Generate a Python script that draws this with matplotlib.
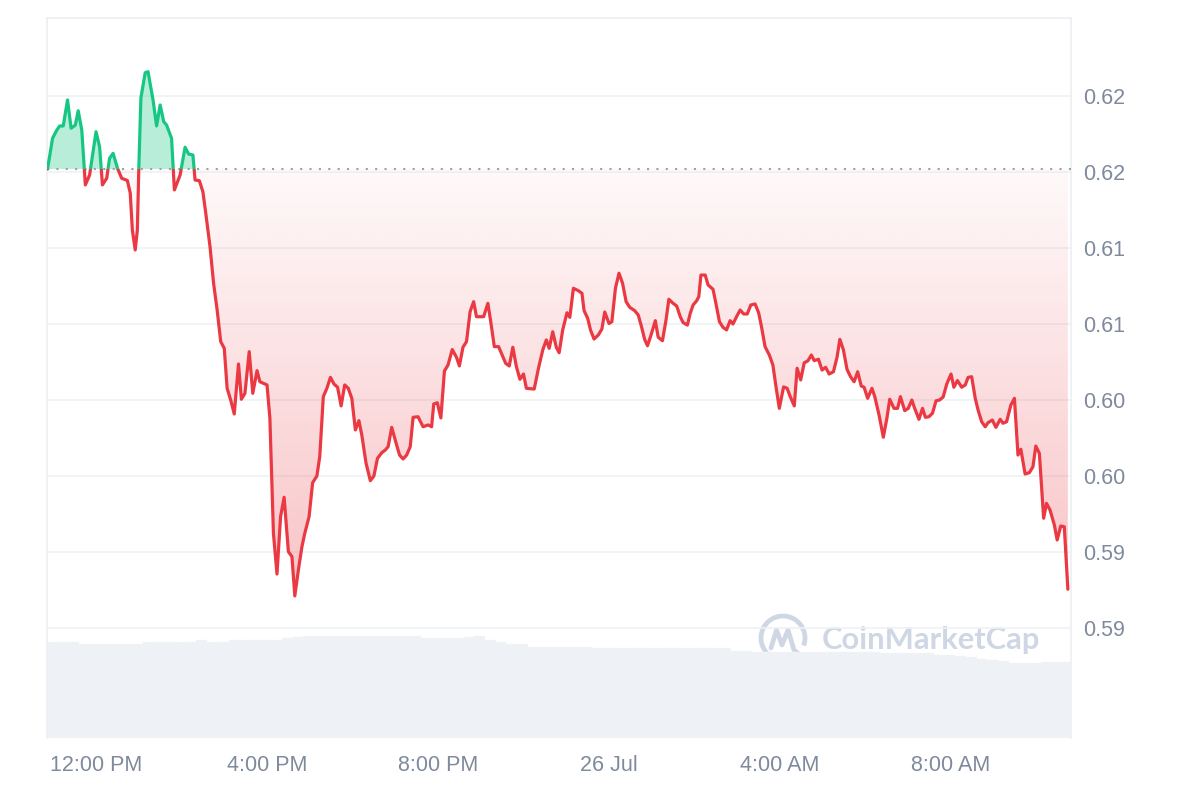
import numpy as np
import pandas as pd
import matplotlib
matplotlib.use("Agg")
import matplotlib.pyplot as plt
import matplotlib.dates as mdates
from matplotlib.patches import Rectangle, Arc
from matplotlib.path import Path

plt.rcParams['font.family'] = ['Liberation Sans', 'DejaVu Sans']

# ---------------- data ----------------
# minutes after 25 Jul 12:00 PM
minutes = [-68,-61,-55,-51,-46,-40,-35,-29,-25,-20,-15,-9,0,5,9,15,19,24,30,36,44,48,51,55,58,60,63,69,73,80,
           85,90,95,99,106,110,118,125,130,136,139,145,150,154,160,165,170,175,180,184,189,194,200,204,209,215,220,226,230,240,
           244,249,254,259,264,270,275,279,284,289,293,299,304,310,314,319,324,329,334,339,344,349,354,359,364,369,373,379,385,390,
           395,401,406,410,415,421,426,431,436,441,445,452,459,466,471,474,479,484,489,494,500,506,510,515,520,525,530,534,544,550,
           554,559,565,569,575,580,585,590,595,600,604,615,621,627,632,636,641,646,650,655,661,665,670,677,682,685,690,694,699,705,
           710,714,720,724,729,734,739,744,749,756,761,765,770,774,779,785,789,795,800,804,809,815,820,824,830,834,838,843,846,849,
           855,859,866,870,875,880,885,890,894,899,904,909,914,919,925,930,934,939,945,950,954,959,965,970,974,980,984,989,994,999,
           1004,1008,1014,1019,1024,1029,1035,1040,1044,1049,1054,1059,1064,1069,1074,1078,1083,1089,1093,1099,1105,1110,1114,1120,1125,1129,1135,1140,1145,1149,
           1155,1160,1164,1169,1174,1179,1184,1189,1194,1200,1204,1209,1215,1220,1224,1229,1234,1238,1243,1248,1252,1258,1263,1269,1273,1278,1284,1289,1294,1298,
           1304,1310,1315,1319,1324,1330,1334,1339,1345,1349,1354,1359,1364]

prices = [0.62020,0.62222,0.62276,0.62303,0.62303,0.62474,0.62288,0.62309,0.62403,0.62276,
          0.61915,0.61980,0.62265,0.62166,0.61915,0.61959,0.62090,0.62123,0.62026,0.61959,
          0.61944,0.61862,0.61618,0.61487,0.61618,0.62013,0.62487,0.62653,0.62660,0.62474,
          0.62303,0.62441,0.62331,0.62309,0.62222,0.61882,0.61980,0.62163,0.62118,0.62112,
          0.61947,0.61943,0.61870,0.61730,0.61509,0.61268,0.61092,0.60884,0.60840,0.60577,
          0.60500,0.60408,0.60737,0.60505,0.60544,0.60818,0.60544,0.60693,0.60620,0.60599,
          0.60382,0.59623,0.59355,0.59732,0.59860,0.59502,0.59469,0.59211,0.59382,0.59535,
          0.59623,0.59732,0.59956,0.60000,0.60127,0.60522,0.60577,0.60649,0.60605,0.60584,
          0.60461,0.60599,0.60577,0.60511,0.60303,0.60364,0.60270,0.60084,0.59969,0.60000,
          0.60116,0.60153,0.60171,0.60193,0.60320,0.60219,0.60138,0.60112,0.60138,0.60193,
          0.60386,0.60390,0.60324,0.60336,0.60324,0.60474,0.60482,0.60382,0.60691,0.60730,
          0.60832,0.60780,0.60724,0.60847,0.60884,0.61081,0.61147,0.61048,0.61048,0.61136,
          0.61015,0.60851,0.60851,0.60807,0.60741,0.60724,0.60847,0.60719,0.60636,0.60671,
          0.60577,0.60572,0.60709,0.60829,0.60895,0.60840,0.60949,0.60847,0.60811,0.60961,
          0.61074,0.61044,0.61235,0.61219,0.61202,0.61088,0.61038,0.60961,0.60901,0.60928,
          0.60967,0.61079,0.61003,0.61015,0.61235,0.61334,0.61268,0.61147,0.61110,0.61088,
          0.61059,0.60993,0.60899,0.60857,0.60928,0.61022,0.60913,0.60890,0.61026,0.61163,
          0.61140,0.61118,0.61048,0.61009,0.60993,0.61070,0.61125,0.61153,0.61180,0.61322,
          0.61322,0.61257,0.61228,0.61136,0.61015,0.60978,0.60961,0.61022,0.61000,0.61048,
          0.61092,0.61066,0.61066,0.61125,0.61132,0.61074,0.60982,0.60851,0.60796,0.60730,
          0.60599,0.60445,0.60586,0.60577,0.60526,0.60461,0.60709,0.60632,0.60745,0.60757,
          0.60796,0.60759,0.60768,0.60697,0.60715,0.60671,0.60686,0.60781,0.60899,0.60829,
          0.60702,0.60653,0.60620,0.60686,0.60592,0.60584,0.60511,0.60577,0.60522,0.60401,
          0.60255,0.60380,0.60505,0.60445,0.60445,0.60522,0.60430,0.60445,0.60500,0.60445,
          0.60373,0.60445,0.60386,0.60390,0.60413,0.60495,0.60500,0.60520,0.60605,0.60671,
          0.60584,0.60628,0.60584,0.60599,0.60649,0.60653,0.60511,0.60434,0.60357,0.60324,
          0.60351,0.60368,0.60320,0.60373,0.60347,0.60357,0.60467,0.60511,0.60138,0.60176,
          0.60013,0.60022,0.60061,0.60197,0.60149,0.59722,0.59820,0.59776,0.59678,0.59579,
          0.59671,0.59666,0.59255]

# volume bars: 15-minute buckets starting 10:51 AM (relative units)
vol_start_minute = -69
vol_step_minutes = 15
volume = [96,96,96,94,94,94,94,94,94,96,96,96,96,96,98,96,96,98,98,98,98,98,100,101,
          102,102,102,102,102,102,102,102,102,102,102,100,100,100,100,101,102,98,96,94,94,
          91,91,91,91,91,91,90,90,90,90,90,90,90,90,90,90,90,90,90,87,87,
          86,86,86,86,86,86,86,86,86,86,86,86,85,85,85,85,85,
          83,83,82,81,79,78,77,75,75,75,76,76,76]

x_tick_minutes = [0, 240, 480, 720, 960, 1200]
x_tick_labels = ["12:00 PM", "4:00 PM", "8:00 PM", "26 Jul", "4:00 AM", "8:00 AM"]
y_ticks = [0.59, 0.595, 0.60, 0.605, 0.61, 0.615, 0.62, 0.625]
x_range_minutes = (-68.8, 1368.4)
y_range = (0.582763, 0.630132)

# ---------------- styling ----------------
GREEN = '#16c784'
RED = '#ea3943'
GRID = '#eff2f5'
LABEL = '#808a9d'

base_time = pd.Timestamp('2024-07-25 12:00')
def to_num(mins):
    return mdates.date2num((base_time + pd.to_timedelta(np.asarray(mins, dtype=float), unit='m')).to_pydatetime())

t = to_num(minutes)
p = np.array(prices)
base = p[0]
xmin, xmax = to_num(list(x_range_minutes))
ymin, ymax = y_range

fig = plt.figure(figsize=(12, 8), dpi=100)
rect = [47/1200, 62/800, 1024/1200, 720/800]
axv = fig.add_axes(rect)
ax = fig.add_axes(rect, sharex=axv)
ax.patch.set_visible(False)

# volume
vt = to_num([vol_start_minute + i*vol_step_minutes for i in range(len(volume))])
axv.bar(vt, volume, width=vol_step_minutes/1440, align='edge', color='#eef1f5',
        edgecolor='#f6f7f9', linewidth=0.3)
axv.set_ylim(0, 720)
axv.axis('off')

# fills
ax.fill_between(t, p, base, where=p >= base, interpolate=True, color=GREEN,
                alpha=0.3, lw=0, zorder=2)
coll = ax.fill_between(t, p, base, where=p <= base, interpolate=True,
                       facecolor='none', edgecolor='none', lw=0)
clip = Path.make_compound_path(*coll.get_paths())
n = 256
rgba = np.zeros((n, 1, 4))
rgba[..., :3] = matplotlib.colors.to_rgb(RED)
rgba[:, 0, 3] = np.linspace(0.30, 0.03, n)
im = ax.imshow(rgba, extent=[t[0], t[-1], p.min(), base], origin='lower',
               aspect='auto', zorder=2, interpolation='bilinear')
im.set_clip_path(clip, transform=ax.transData)

# lines
above = Rectangle((xmin, base), xmax - xmin, ymax - base, transform=ax.transData)
below = Rectangle((xmin, ymin), xmax - xmin, base - ymin, transform=ax.transData)
lg, = ax.plot(t, p, color=GREEN, lw=2.3, zorder=4, solid_joinstyle='round', solid_capstyle='round')
lg.set_clip_path(above)
lr, = ax.plot(t, p, color=RED, lw=2.3, zorder=4, solid_joinstyle='round', solid_capstyle='round')
lr.set_clip_path(below)

ax.axhline(base, color='#9aa1ad', lw=1.5, ls=(0, (1, 3.5)), zorder=3)

ax.set_xlim(xmin, xmax)
ax.set_ylim(ymin, ymax)

ax.yaxis.tick_right()
ax.set_yticks(y_ticks)
ax.set_yticklabels([f"{v:.2f}" for v in y_ticks])
ax.set_xticks(to_num(x_tick_minutes))
ax.set_xticklabels(x_tick_labels)
ax.tick_params(axis='y', length=0, pad=9, labelsize=15.5, labelcolor=LABEL)
ax.tick_params(axis='x', length=0, pad=12, labelsize=15.5, labelcolor=LABEL)
ax.grid(axis='y', color=GRID, lw=1.2, zorder=0)
ax.set_axisbelow(True)
for s in ['top', 'left', 'right']:
    ax.spines[s].set_color('#eceff3')
    ax.spines[s].set_linewidth(1.2)
ax.spines['bottom'].set_visible(False)

# watermark overlay (pixel coordinates)
ov = fig.add_axes([0, 0, 1, 1], zorder=-0.5)
ov.set_xlim(0, 1200)
ov.set_ylim(800, 0)
ov.axis('off')
ov.patch.set_visible(False)
wm = '#cfd6e4'
ov.add_patch(Arc((783, 638), 44, 44, theta1=70, theta2=380, color=wm, lw=3.4))
ov.plot([771, 776.5, 782, 788, 794, 799], [648, 630, 645, 630, 650, 654],
        color=wm, lw=3.4, solid_joinstyle='round', solid_capstyle='round')
txt = ov.text(822, 640, 'CoinMarketCap', ha='left', va='center', fontsize=21,
              color=wm, fontweight='bold', family=['Lato', 'DejaVu Sans'])
fig.canvas.draw()
bb = txt.get_window_extent()
txt.set_fontsize(21 * 218 / bb.width)

fig.savefig('out.png', dpi=100)
